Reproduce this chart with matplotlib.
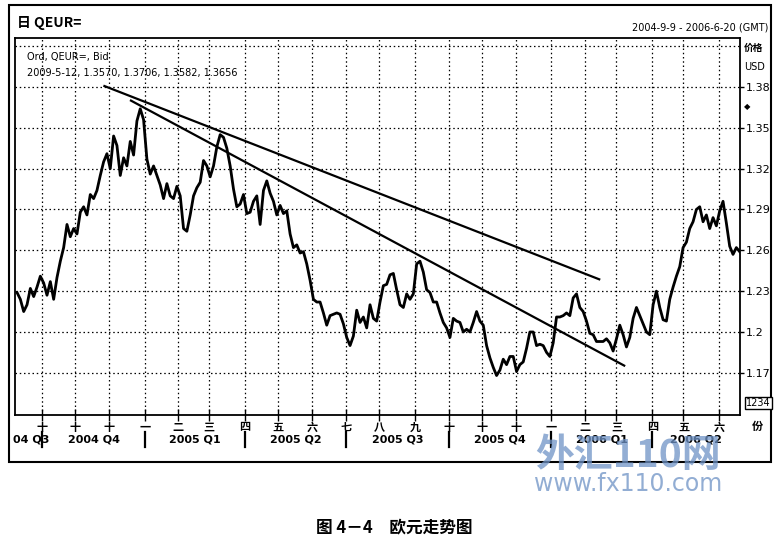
import numpy as np
import pandas as pd
import matplotlib
matplotlib.use('Agg')
import matplotlib.pyplot as plt
import matplotlib.patches as patches
import matplotlib.transforms as mtransforms

# 数据：欧元/美元 日线（按图读取的近似值，等间隔取样）
start_date = '2004-09-09'
end_date = '2006-06-20'
prices = [
    1.229, 1.224, 1.215, 1.220, 1.232, 1.226, 1.233, 1.241, 1.236, 1.227,
    1.237, 1.224, 1.240, 1.252, 1.262, 1.279, 1.270, 1.276, 1.272, 1.288,
    1.292, 1.286, 1.301, 1.298, 1.304, 1.315, 1.325, 1.331, 1.320, 1.344,
    1.337, 1.315, 1.328, 1.322, 1.340, 1.330, 1.355, 1.364, 1.356, 1.327,
    1.316, 1.322, 1.315, 1.308, 1.298, 1.309, 1.300, 1.298, 1.307, 1.300,
    1.276, 1.274, 1.286, 1.300, 1.306, 1.310, 1.326, 1.322, 1.314, 1.322,
    1.336, 1.345, 1.343, 1.335, 1.322, 1.305, 1.292, 1.294, 1.301, 1.287,
    1.288, 1.296, 1.300, 1.279, 1.304, 1.311, 1.302, 1.296, 1.286, 1.293,
    1.287, 1.289, 1.272, 1.262, 1.264, 1.258, 1.259, 1.250, 1.238, 1.224,
    1.222, 1.222, 1.214, 1.205, 1.212, 1.213, 1.214, 1.213, 1.206, 1.196,
    1.190, 1.197, 1.216, 1.207, 1.211, 1.203, 1.220, 1.210, 1.208, 1.222,
    1.234, 1.235, 1.242, 1.243, 1.231, 1.220, 1.218, 1.228, 1.224, 1.228,
    1.250, 1.252, 1.244, 1.231, 1.229, 1.222, 1.222, 1.214, 1.207, 1.203,
    1.196, 1.210, 1.208, 1.207, 1.200, 1.202, 1.200, 1.207, 1.215, 1.208,
    1.205, 1.190, 1.181, 1.174, 1.168, 1.172, 1.180, 1.176, 1.182, 1.182,
    1.171, 1.176, 1.178, 1.188, 1.200, 1.200, 1.190, 1.191, 1.190, 1.185,
    1.182, 1.192, 1.211, 1.211, 1.212, 1.214, 1.212, 1.225, 1.228, 1.218,
    1.215, 1.208, 1.199, 1.198, 1.193, 1.193, 1.193, 1.195, 1.192, 1.186,
    1.195, 1.205, 1.198, 1.189, 1.196, 1.210, 1.218, 1.212, 1.206, 1.200,
    1.198, 1.220, 1.230, 1.218, 1.209, 1.208, 1.224, 1.233, 1.241, 1.248,
    1.262, 1.266, 1.276, 1.281, 1.290, 1.292, 1.281, 1.286, 1.276, 1.284,
    1.278, 1.289, 1.296, 1.280, 1.263, 1.257, 1.262, 1.259,
]

# 两条下降趋势线（起点、终点）
trend1_dates = ['2004-11-26', '2006-02-14']
trend1_prices = [1.3807, 1.2387]
trend2_dates = ['2004-12-21', '2006-03-08']
trend2_prices = [1.3700, 1.1753]

y_ticks = [1.17, 1.2, 1.23, 1.26, 1.29, 1.32, 1.35, 1.38]
y_tick_labels = ['1.17', '1.2', '1.23', '1.26', '1.29', '1.32', '1.35', '1.38']
month_labels = ['十', '十', '十', '一', '二', '三', '四', '五', '六', '七', '八',
                '九', '十', '十', '十', '一', '二', '三', '四', '五', '六']
quarter_labels = ['04 Q3', '2004 Q4', '2005 Q1', '2005 Q2', '2005 Q3',
                  '2005 Q4', '2006 Q1', '2006 Q2']

narrow = ['Liberation Sans Narrow', 'DejaVu Sans']
cjk = ['Noto Sans CJK SC', 'DejaVu Sans']

# 交易日轴
days = pd.bdate_range(start_date, end_date)
n = len(days)
xs = np.linspace(0, n - 1, len(prices))

def day_pos(d):
    return days.get_indexer([pd.Timestamp(d)], method='nearest')[0]

W, H = 779, 544
fig = plt.figure(figsize=(W / 100, H / 100), dpi=100)

def fx(px):
    return px / W

def fy(py):
    return 1 - py / H

ax = fig.add_axes([fx(15), fy(415), fx(740) - fx(15), fy(38) - fy(415)])

# 价格线
ax.plot(xs, prices, color='black', lw=2.0, zorder=5)

# 趋势线
ax.plot([day_pos(d) for d in trend1_dates], trend1_prices, color='black', lw=1.6, zorder=6)
ax.plot([day_pos(d) for d in trend2_dates], trend2_prices, color='black', lw=1.6, zorder=6)

ax.set_xlim(-1.3, n - 1 + 0.2)
ax.set_ylim(1.139, 1.416)

# 网格（虚点线）
month_pos = [i for i in range(1, n) if days[i].month != days[i - 1].month]
for yv in y_ticks + [1.41]:
    ax.axhline(yv, color='black', lw=0.9, ls=(0, (1.2, 2.2)), zorder=1)
for xv in month_pos:
    ax.axvline(xv, color='black', lw=0.9, ls=(0, (1.2, 2.2)), zorder=1)

# 右侧价格轴
ax.yaxis.tick_right()
ax.set_yticks(y_ticks)
ax.set_yticklabels(y_tick_labels, family=narrow, fontsize=8)
ax.tick_params(axis='y', direction='out', length=3, width=1, pad=1)

# 月份刻度
ax.set_xticks(month_pos)
ax.set_xticklabels(month_labels, family=cjk, fontsize=8, fontweight='bold')
ax.tick_params(axis='x', direction='inout', length=8, width=1, pad=0)

for s in ax.spines.values():
    s.set_linewidth(1.3)

# 季度标签
trans = mtransforms.blended_transform_factory(ax.transData, fig.transFigure)
q_pos = [i for i in month_pos if days[i].month in (1, 4, 7, 10)]
for qp in q_pos:
    ax.plot([qp, qp], [fy(447), fy(432)], color='black', lw=1.6,
            transform=trans, clip_on=False)
edges = [0] + q_pos + [n - 1]
for i, lab in enumerate(quarter_labels):
    cx = (edges[i] + edges[i + 1]) / 2
    if i == 0:
        cx = edges[1] / 2 + 1
    ax.text(cx, fy(440), lab, transform=trans, ha='center', va='center',
            family=narrow, fontsize=8, fontweight='bold')

# 图内图例文字
ax.text(fx(27), fy(57), 'Ord, QEUR=, Bid', transform=fig.transFigure,
        family=narrow, fontsize=7, va='center')
ax.text(fx(27), fy(73), '2009-5-12, 1.3570, 1.3706, 1.3582, 1.3656',
        transform=fig.transFigure, family=narrow, fontsize=7, va='center')

# 外框与标题
fig.patches.append(patches.Rectangle((fx(9), fy(462)), fx(771) - fx(9), fy(5) - fy(462),
                                     transform=fig.transFigure, fill=False,
                                     ec='black', lw=1.5))
fig.text(fx(17), fy(23), '日 QEUR=', family=cjk, fontsize=10, fontweight='bold', va='center')
fig.text(fx(768), fy(27), '2004-9-9 - 2006-6-20 (GMT)', family=narrow, fontsize=7,
         ha='right', va='center')
fig.text(fx(744), fy(48), '价格', family=cjk, fontsize=7, fontweight='bold', va='center')
fig.text(fx(744), fy(67), 'USD', family=narrow, fontsize=7, va='center')
fig.text(fx(744), fy(107), '◆', family='DejaVu Sans', fontsize=6, va='center')
fig.text(fx(746), fy(403), '1234', family=narrow, fontsize=7, va='center',
         bbox=dict(boxstyle='square,pad=0.15', fc='white', ec='black', lw=1))
fig.text(fx(757), fy(426), '份', family=cjk, fontsize=8, fontweight='bold',
         ha='center', va='center')

# 水印
fig.text(fx(628), fy(455), '外汇110网', family=cjk, fontsize=28, fontweight='bold',
         style='italic', color='#6f93c6', alpha=0.75, ha='center', va='center')
fig.text(fx(628), fy(484), 'www.fx110.com', family='DejaVu Sans', fontsize=17,
         color='#7f9fcc', alpha=0.85, ha='center', va='center')

# 图题
fig.text(fx(394), fy(527), '图 4－4　欧元走势图', family=cjk, fontsize=12,
         fontweight='bold', ha='center', va='center')

fig.savefig('out.png', dpi=100)
